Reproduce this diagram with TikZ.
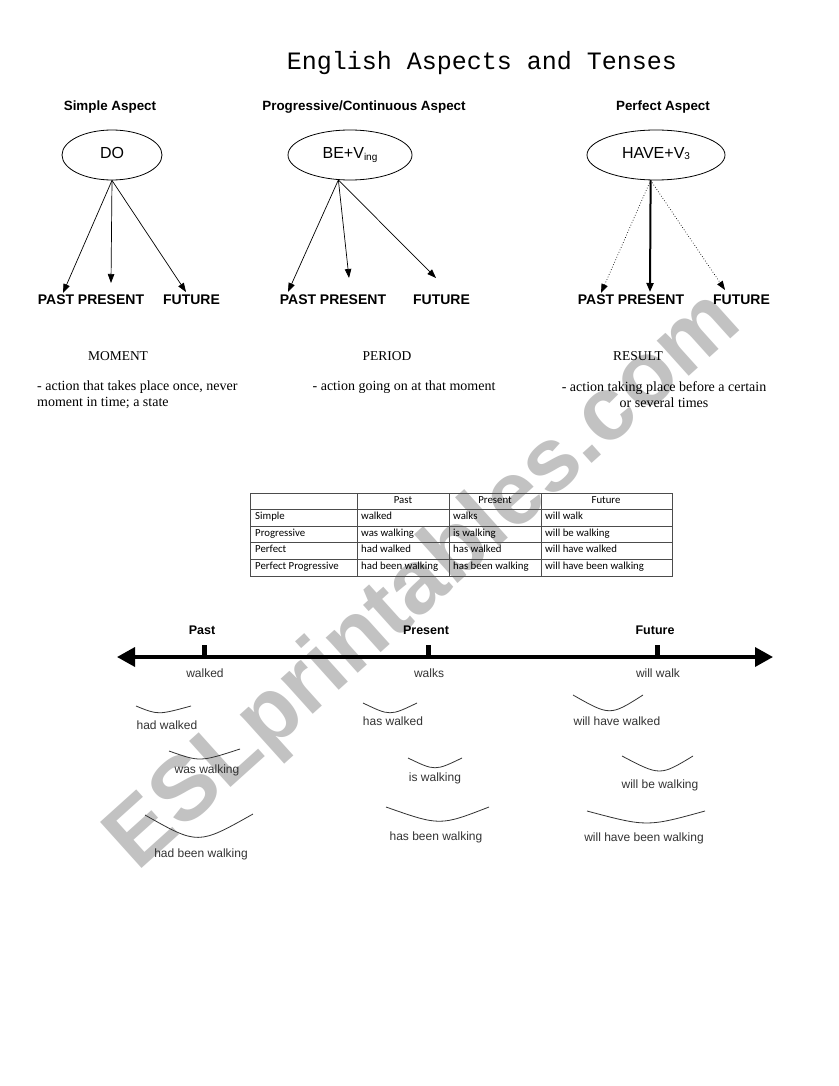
\documentclass[tikz,border=0pt]{standalone}
\usepackage{fontspec}
\setmainfont{Liberation Serif}
\newfontfamily\headfont{Liberation Sans}
\newfontfamily\titlefont{Liberation Mono}
\newfontfamily\tabfont{Carlito}
\usetikzlibrary{arrows.meta,shapes.geometric}

\begin{document}
\begin{tikzpicture}[x=1pt,y=-1pt,
  head/.style={font=\headfont\bfseries\fontsize{13.4}{16}\selectfont},
  form/.style={ellipse,draw,line width=0.8pt,minimum height=50pt,inner sep=0pt,text height=11.5pt,text depth=3.5pt,font=\headfont\fontsize{16}{19}\selectfont},
  tn/.style={font=\headfont\bfseries\fontsize{14}{17}\selectfont,inner sep=0pt},
  kind/.style={font=\fontsize{13.5}{16}\selectfont},
  desc/.style={font=\fontsize{14}{16}\selectfont,align=left,inner sep=0pt},
  aa/.style={line width=0.7pt,-{Triangle[length=9pt,width=6.5pt]}},
  da/.style={aa,dotted},
  ta/.style={line width=2pt,-{Triangle[length=9pt,width=7pt]}},
  tab/.style={draw=black!70,line width=0.5pt},
  th/.style={font=\tabfont\fontsize{10.8}{12}\selectfont,text height=7.5pt,text depth=2.5pt},
  tc/.style={font=\tabfont\fontsize{10.8}{12}\selectfont,anchor=west,inner sep=0pt,text height=7.5pt,text depth=2.5pt},
  tl/.style={font=\headfont\bfseries\fontsize{12.5}{15}\selectfont},
  ex/.style={font=\headfont\fontsize{12}{14}\selectfont,text=black!80},
  brc/.style={draw=black!80,line width=0.8pt}]
  \useasboundingbox (0,0) rectangle (838,1086);
  \fill[white] (0,0) rectangle (838,1086);
  % watermark
  \node[rotate=42,text=black!24,font=\headfont\bfseries\fontsize{90}{100}\selectfont] (mark) at (425,582) {ESLprintables.com};
  % title and headings
  \node[font=\titlefont\fontsize{25}{30}\selectfont] (title) at (482,63) {English Aspects and Tenses};
  \node[head] (h1) at (110,107) {Simple Aspect};
  \node[head] (h2) at (364,107) {Progressive/Continuous Aspect};
  \node[head] (h3) at (663,107) {Perfect Aspect};
  % forms
  \node[form,minimum width=100pt] (do) at (112,155) {DO};
  \node[form,minimum width=124pt] (be) at (350,155) {BE+V\raisebox{-2pt}{\fontsize{10}{12}\selectfont ing}};
  \node[form,minimum width=138pt] (have) at (656,155) {HAVE+V\raisebox{-1pt}{\fontsize{10}{12}\selectfont 3}};
  % past present future
  \foreach \g/\x in {s/0,p/242,f/540} {
    \node[tn] (past\g) at (56+\x,300) {PAST};
    \node[tn] (pres\g) at (111+\x,300) {PRESENT};
  }
  \node[tn] (futs) at (191.5,300) {FUTURE};
  \node[tn] (futp) at (441.5,300) {FUTURE};
  \node[tn] (futf) at (741.5,300) {FUTURE};
  \coordinate (s1) at (63,293); \coordinate (s2) at (111,283); \coordinate (s3) at (186,292);
  \coordinate (p1) at (288,292); \coordinate (p2) at (349,278); \coordinate (p3) at (436,278);
  \coordinate (f1) at (601,293); \coordinate (f2) at (650,292); \coordinate (f3) at (725,290);
  \foreach \e in {s1,s2,s3} \draw[aa] (do.south) -- (\e);
  \foreach \e in {p1,p2,p3} \draw[aa] (be.-115) -- (\e);
  \draw[da] (have.-102) -- (f1);
  \draw[ta] (have.-102) -- (f2);
  \draw[da] (have.-102) -- (f3);
  % meaning
  \node[kind] (moment) at (118,356) {MOMENT};
  \node[kind] (period) at (387,356) {PERIOD};
  \node[kind] (result) at (638,356) {RESULT};
  \node[desc,anchor=north west] (d1) at (37,381) {- action that takes place once, never\\moment in time; a state};
  \node[desc,anchor=north] (d2) at (404,381) {- action going on at that moment};
  \node[desc,align=center,anchor=north] (d3) at (664,381) {- action taking place before a certain\\or several times};
  % table
  \draw[tab] (250,493) rectangle (672,576);
  \foreach \y in {509,526,542,559} \draw[tab] (250,\y) -- (672,\y);
  \foreach \x in {357,449,541} \draw[tab] (\x,493) -- (\x,576);
  \node[th] (cpast) at (403,501) {Past};
  \node[th] (cpres) at (495,501) {Present};
  \node[th] (cfut) at (606,501) {Future};
  \foreach \r/\a/\b/\c [count=\i] in {Simple/walked/walks/will walk,
      Progressive/was walking/is walking/will be walking,
      Perfect/had walked/has walked/will have walked,
      Perfect Progressive/had been walking/has been walking/will have been walking} {
    \node[tc] (r\i) at (255,500.5+\i*16.6) {\r};
    \node[tc] (a\i) at (361,500.5+\i*16.6) {\a};
    \node[tc] (b\i) at (453,500.5+\i*16.6) {\b};
    \node[tc] (c\i) at (545,500.5+\i*16.6) {\c};
  }
  % time line
  \coordinate (tleft) at (117,657);
  \coordinate (tright) at (773,657);
  \draw[line width=3.5pt,{Triangle[length=18pt,width=19pt]}-{Triangle[length=18pt,width=19pt]}] (tleft) -- (tright);
  \foreach \x/\n/\t/\w in {204/past/Past/walked,428/pres/Present/walks,657/fut/Future/will walk} {
    \draw[line width=5pt] (\x,657) -- (\x,645);
    \node[tl] (l\n) at (\x-2,630) {\t};
    \node[ex] (w\n) at (\x+1,673) {\w};
  }
  % spans
  \foreach \ax/\ay/\mx/\my/\bx/\by in {136/706/158/715/191/706, 169/751/200/762/240/749,
      145/815/198/845/253/814, 363/703/390/716/417/703, 408/758/435/771/462/758,
      386/807/440/826/489/807, 573/695/610/716/643/695, 622/756/660/776/693/756,
      587/811/647/827/705/811}
    \draw[brc] (\ax,\ay) .. controls (\mx,\my) .. (\bx,\by);
  \node[ex] (e1) at (167,725) {had walked};
  \node[ex] (e2) at (207,770) {was walking};
  \node[ex] (e3) at (201,854) {had been walking};
  \node[ex] (e4) at (393,721) {has walked};
  \node[ex] (e5) at (435,778) {is walking};
  \node[ex] (e6) at (436,837) {has been walking};
  \node[ex] (e7) at (617,721) {will have walked};
  \node[ex] (e8) at (660,785) {will be walking};
  \node[ex] (e9) at (644,838) {will have been walking};
\end{tikzpicture}
\end{document}
